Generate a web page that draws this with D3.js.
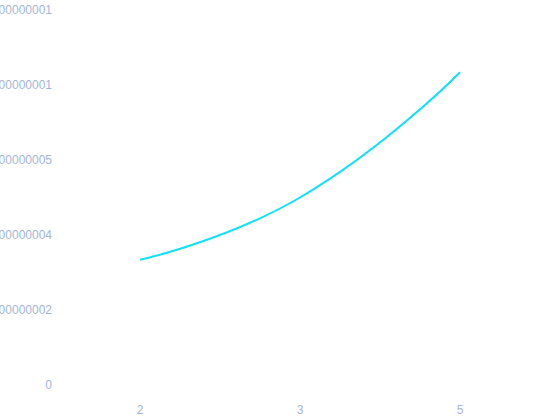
<!DOCTYPE html>
<html lang="en">
<head>
    <meta charset="UTF-8">
    <title>Line chart</title>
    <script src="https://d3js.org/d3.v7.min.js"></script>
    <style>
        body { margin: 0; background: #fff; }
        .axis text {
            fill: #a3b5d6;
            font-family: "Liberation Sans", Arial, sans-serif;
            font-size: 12px;
        }
        .axis path, .axis line { display: none; }
    </style>
</head>
<body>
<svg width="550" height="420"></svg>
<script>
    // Categories on the x axis and the series values
    const categories = ["2", "3", "5"];
    const values = [1.67, 2.5, 4.17];

    // y tick positions and their (long, clipped) labels
    const yTicks = [0, 1, 2, 3, 4, 5];
    const yTickLabels = [
        "0",
        "0.00000000000000002",
        "0.00000000000000004",
        "0.00000000000000005",
        "0.000000000000000001",
        "0.000000000000000001"
    ];

    // Smoothing curve: cubic segments whose control points follow the
    // neighbouring points (endpoints keep their own point as control)
    const curveSmooth = (context) => {
        let pts;
        const s = 0.5;
        return {
            areaStart() {},
            areaEnd() {},
            lineStart() { pts = []; },
            point(x, y) { pts.push([+x, +y]); },
            lineEnd() {
                const n = pts.length;
                if (!n) return;
                context.moveTo(pts[0][0], pts[0][1]);
                let cp0 = pts[0];
                for (let i = 1; i < n; i++) {
                    const p = pts[i], prev = pts[i - 1], next = pts[i + 1];
                    let cp1 = p, nextCp = p;
                    if (next) {
                        const vx = next[0] - prev[0], vy = next[1] - prev[1];
                        const l0 = Math.hypot(p[0] - prev[0], p[1] - prev[1]);
                        const l1 = Math.hypot(next[0] - p[0], next[1] - p[1]);
                        const r = l1 / (l0 + l1);
                        cp1 = [p[0] - vx * s * (1 - r), p[1] - vy * s * (1 - r)];
                        nextCp = [p[0] + vx * s * r, p[1] + vy * s * r];
                    }
                    context.bezierCurveTo(cp0[0], cp0[1], cp1[0], cp1[1], p[0], p[1]);
                    cp0 = nextCp;
                }
            }
        };
    };

    const svg = d3.select("svg"),
        margin = {top: 10, right: 10, bottom: 35, left: 60},
        width = +svg.attr("width") - margin.left - margin.right,
        height = +svg.attr("height") - margin.top - margin.bottom;

    const x = d3.scaleBand()
        .domain(categories)
        .range([0, width]);

    const y = d3.scaleLinear()
        .domain([0, 5])
        .range([height, 0]);

    const g = svg.append("g")
        .attr("transform", `translate(${margin.left},${margin.top})`);

    // y axis
    g.append("g")
        .attr("class", "axis")
        .call(d3.axisLeft(y)
            .tickValues(yTicks)
            .tickSize(0)
            .tickPadding(8)
            .tickFormat((d, i) => yTickLabels[i]));

    // x axis
    g.append("g")
        .attr("class", "axis")
        .attr("transform", `translate(0,${height})`)
        .call(d3.axisBottom(x).tickSize(0).tickPadding(20));

    // the line
    const line = d3.line()
        .x((d, i) => x(categories[i]) + x.bandwidth() / 2)
        .y((d) => y(d))
        .curve(curveSmooth);

    g.append("path")
        .datum(values)
        .attr("fill", "none")
        .attr("stroke", "#0be2f5")
        .attr("stroke-width", 2)
        .attr("d", line);
</script>
</body>
</html>
